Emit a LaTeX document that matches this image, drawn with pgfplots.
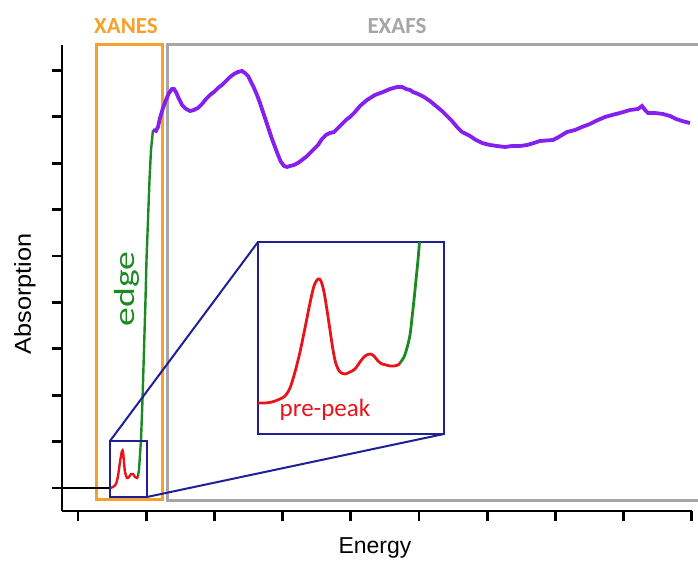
\documentclass[border=0pt]{standalone}
\usepackage{pgfplots}
\pgfplotsset{compat=1.18}
\usepackage{fontspec}
\setmainfont{Liberation Sans}
\newfontfamily\carlito{Carlito}
\definecolor{xanesorange}{HTML}{F4A22D}
\definecolor{exafsgray}{HTML}{A6A6A6}
\definecolor{navy}{HTML}{1F1F96}
\definecolor{peakred}{HTML}{E8141C}
\definecolor{edgegreen}{HTML}{1C8A22}
\definecolor{exafsviolet}{HTML}{8520EE}

\begin{document}
\begin{tikzpicture}
\begin{axis}[
  x=0.5pt, y=0.5pt,
  xmin=62, xmax=692, ymin=50, ymax=516,
  axis lines*=left,
  axis line style={-, line width=1.4pt},
  xtick={78,146.2,214.4,282.6,350.8,419,487.2,555.4,623.6,691.8},
  ytick={73,119.4,165.8,212.2,258.6,305,351.4,397.8,444.2,490.6},
  xticklabels={}, yticklabels={},
  tick align=outside,
  major tick length=5pt,
  tick style={line width=1.4pt, black},
  clip=false,
]
% region boxes
\draw[xanesorange, line width=1.5pt] (axis cs:97,61) rectangle (axis cs:163,516);
\draw[exafsgray, line width=1.5pt] (axis cs:698,516) -- (axis cs:168,516) -- (axis cs:168,60) -- (axis cs:698,60);
\node[text=xanesorange, font=\carlito\bfseries\fontsize{11.5}{13}\selectfont] at (axis cs:126,535) {XANES};
\node[text=exafsgray, font=\carlito\bfseries\fontsize{11.5}{13}\selectfont] at (axis cs:397,535) {EXAFS};

% spectrum
\addplot[black, line width=1.2pt] coordinates {(62,73) (110,73)};
\addplot[peakred, line width=1.2pt, smooth] coordinates {
  (110,73) (113,74) (116,77) (118,85) (120,99) (122,110) (123,109) (124,99)
  (125,89) (127,83) (129,84) (131,87) (133,87) (135,84) (137,83) (138,85)};
\addplot[edgegreen, line width=1.2pt] coordinates {
  (138,85) (139,91) (140,106) (141,121) (142.5,161) (144,211) (145.5,261)
  (146.5,301) (148,341) (149.5,381) (151,411) (153,431)};
\addplot[exafsviolet, line width=1.9pt] coordinates {
  (153,431) (156,430) (158,434) (160,443) (163,453) (166,461) (169,468) (172,472)
  (174,472) (176,469) (179,462) (182,456) (186,452) (190,450) (194,451) (198,453)
  (202,457) (206,462) (210,466) (214,469) (218,473) (222,476) (226,480) (230,484)
  (234,487) (238,489) (242,490) (245,488) (248,485) (251,479) (254,473) (257,466)
  (260,458) (263,449) (266,440) (269,431) (272,422) (275,414) (278,406) (281,399)
  (284,395) (287,394) (290,395) (294,396) (298,398) (302,401) (306,404) (310,408)
  (314,412) (318,416) (322,422) (326,426) (330,428) (334,429) (338,433) (342,437)
  (346,441) (350,444) (355,449) (360,455) (367,461) (375,466) (383,469) (390,472)
  (397,474) (402,474) (406,472) (410,471) (413,469) (418,467) (424,464) (430,460)
  (436,455) (442,450) (447,445) (452,440) (457,434) (462,429) (466,427) (470,425)
  (476,421) (482,418) (490,416) (497,415) (505,414) (512,415) (520,415) (527,416)
  (534,418) (540,420) (553,421) (557,423) (562,426) (567,429) (575,431) (582,434)
  (590,437) (598,441) (605,444) (612,446) (620,448) (630,451) (638,452) (642,455)
  (645,451) (648,448) (655,448) (663,447) (670,445) (676,442) (682,440) (690,438)};

% zoom inset
\draw[navy, line width=1pt] (axis cs:110,64) rectangle (axis cs:147,120);
\draw[navy, line width=1pt] (axis cs:110,120) -- (axis cs:258,319);
\draw[navy, line width=1pt] (axis cs:147,64) -- (axis cs:444,127);
\draw[navy, line width=1pt, fill=white] (axis cs:258,127) rectangle (axis cs:444,319);
\addplot[peakred, line width=1.4pt, smooth] coordinates {
  (258,158) (265,158) (272,159) (280,162) (285,165) (290,173) (295,189) (300,209)
  (305,233) (310,258) (314,275) (318,282) (321,280) (324,269) (327,251) (330,231)
  (333,211) (336,197) (340,189) (345,187) (350,189) (355,192) (360,199) (365,205)
  (370,207) (374,205) (378,200) (382,197) (386,196) (390,195) (394,195) (398,196)
  (400,198)};
\addplot[edgegreen, line width=1.4pt, smooth] coordinates {
  (400,198) (404,204) (407,213) (410,226) (412,243) (414,261) (416,281) (418,301)
  (419.5,319)};
\node[text=peakred, font=\carlito\fontsize{12.5}{14}\selectfont] at (axis cs:325,151) {pre-peak};
\node[text=edgegreen, font=\carlito\fontsize{14.5}{16}\selectfont, rotate=90, xscale=1.3] at (axis cs:127,272) {edge};

% axis labels
\node[font=\fontsize{11.5}{13}\selectfont] at (axis cs:375,13) {Energy};
\node[font=\fontsize{11.5}{13}\selectfont, rotate=90, xscale=1.1] at (axis cs:25,267) {Absorption};

\coordinate (bl) at (axis cs:0,0);
\coordinate (tr) at (axis cs:698,561);
\end{axis}
\pgfresetboundingbox
\path[use as bounding box] (bl) rectangle (tr);
\end{tikzpicture}
\end{document}
